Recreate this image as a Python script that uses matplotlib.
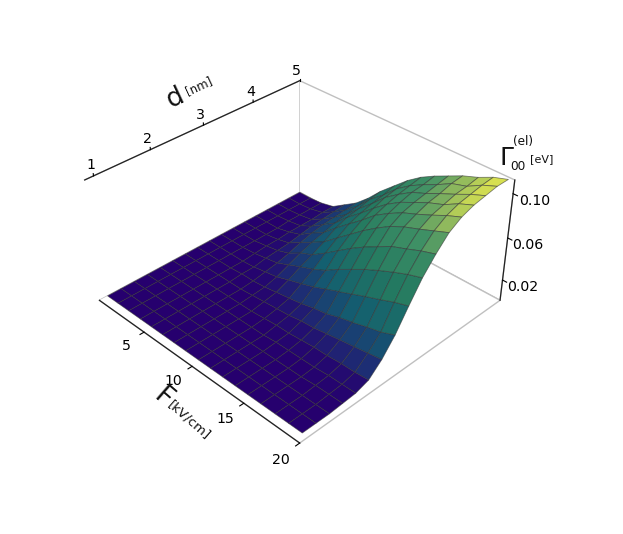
import matplotlib
matplotlib.use("Agg")
import matplotlib.pyplot as plt
import numpy as np
from matplotlib.colors import LinearSegmentedColormap

F_VALUES = [0, 1.2, 2.4, 3.7, 4.9, 6.1, 7.3, 8.5, 9.8, 11, 12.2, 13.4, 14.6, 15.8, 17.1, 18.3, 19.5]
D_VALUES = [1, 1.25, 1.5, 1.75, 2, 2.25, 2.5, 2.75, 3, 3.25, 3.5, 3.75, 4, 4.25, 4.5, 4.75, 5]
# rows: F, columns: d, values in eV
GAMMA = [
    [0, 0, 0, 0, 0, 0, 0, 0, 0, 0, 0, 0, 0, 0, 0, 0, 0],
    [0, 0, 0, 0, 0, 0, 0, 0, 0, 0, 0, 0, 0, 0, 0, 0, 0],
    [0, 0, 0, 0, 0, 0, 0, 0, 0, 0, 0, 0, 0, .001, .001, .001, .001],
    [0, 0, 0, 0, 0, 0, 0, 0, 0, .001, .002, .002, .003, .003, .003, .004, .004],
    [0, 0, 0, 0, 0, 0, 0, .001, .001, .003, .004, .005, .007, .009, .010, .011, .012],
    [0, 0, 0, 0, 0, 0, 0, .001, .003, .005, .008, .012, .015, .017, .018, .019, .020],
    [0, 0, 0, 0, 0, 0, .001, .002, .005, .010, .015, .019, .022, .025, .027, .029, .031],
    [0, 0, 0, 0, 0, 0, .002, .004, .009, .015, .020, .026, .033, .037, .039, .042, .044],
    [0, 0, 0, 0, 0, .001, .003, .006, .013, .020, .029, .037, .044, .048, .051, .053, .056],
    [0, 0, 0, 0, 0, .002, .004, .008, .017, .026, .038, .047, .054, .059, .063, .065, .067],
    [0, 0, 0, 0, .001, .002, .006, .011, .022, .034, .047, .057, .065, .069, .072, .074, .076],
    [0, 0, 0, 0, .001, .003, .007, .013, .027, .041, .055, .066, .073, .077, .080, .081, .083],
    [0, 0, 0, 0, .001, .004, .009, .017, .032, .048, .062, .074, .080, .083, .085, .087, .089],
    [0, 0, 0, 0, .001, .004, .011, .020, .037, .054, .069, .080, .085, .089, .091, .094, .095],
    [0, 0, 0, .001, .002, .005, .013, .024, .042, .060, .074, .085, .091, .094, .097, .098, .100],
    [0, 0, 0, .001, .002, .005, .015, .027, .047, .065, .079, .090, .097, .101, .103, .105, .106],
    [0, 0, 0, .001, .002, .006, .017, .032, .051, .069, .083, .095, .102, .106, .108, .110, .110],
]
F_TICKS = [5, 10, 15, 20]
D_TICKS = [1, 2, 3, 4, 5]
Z_TICKS = [0.02, 0.06, 0.10]

W, H = 623, 534
cmap = LinearSegmentedColormap.from_list(
    "gamma",
    [(0, "#26006e"), (0.03, "#240a70"), (0.1, "#1d2f74"), (0.25, "#135f70"),
     (0.5, "#247a60"), (0.75, "#3f9065"), (0.85, "#7fb05f"), (0.95, "#c4d655"), (1, "#e3e64c")],
)

fig = plt.figure(figsize=(W / 100, H / 100), dpi=100)
ax = fig.add_axes([-19 / W, 17.5 / H, 1, 1], projection="3d")
ax.view_init(elev=35, azim=-45)
ax.set_box_aspect((4, 4, 2.0), zoom=0.80)
ax.set_proj_type("persp", focal_length=0.41)

X, Y = np.meshgrid(F_VALUES, D_VALUES, indexing="ij")
Z = np.array(GAMMA)
ax.plot_surface(X, Y, Z, rstride=1, cstride=1, cmap=cmap, vmin=0, vmax=0.11,
                edgecolor=(0.2, 0.2, 0.2, 0.6), linewidth=0.6, shade=False)

ax.set_xlim(0, 20)
ax.set_ylim(0.85, 5)
ax.set_zlim(0, 0.112)
ax.set_xticks(F_TICKS)
ax.set_yticks(D_TICKS)
ax.set_zticks(Z_TICKS)
ax.set_zticklabels(["0.02", "0.06", "0.10"])
ax.tick_params(labelsize=10.2)
ax.tick_params(axis="x", pad=8.5)
ax.tick_params(axis="y", pad=-5)
ax.tick_params(axis="z", pad=9.4)
ax.yaxis.set_ticks_position("upper")
ax.grid(False)
for axis, ha, va in ((ax.xaxis, "center", "bottom"), (ax.yaxis, "center", "bottom"), (ax.zaxis, "right", "top")):
    axis.set_pane_color((1, 1, 1, 1))
    axis.pane.set_edgecolor("#c0c0c0")
    axis.line.set_linewidth(0.9)
    axis.line.set_color("#222222")
    axis._axinfo["tick"]["inward_factor"] = 0.22
    axis._axinfo["tick"]["outward_factor"] = 0.0
    for lab in axis.get_ticklabels():
        lab.set_ha(ha)
        lab.set_va(va)

def label(x, y, s, size, rot=0):
    fig.text(x / W, 1 - y / H, s, fontsize=size, rotation=rot, ha="center", va="center",
             rotation_mode="anchor", color="#111111")

label(175, 98, "d", 19, 25)
label(199, 86, "[nm]", 8.5, 25)
label(163, 398, "F", 19, -41)
label(189, 420, "[kV/cm]", 9.5, -41)
label(507, 158, r"$\Gamma$", 18)
label(523, 142, "(el)", 8.7)
label(518, 167, "00", 8.7)
label(542, 159, "[eV]", 8)

fig.savefig("out.png", dpi=100)
